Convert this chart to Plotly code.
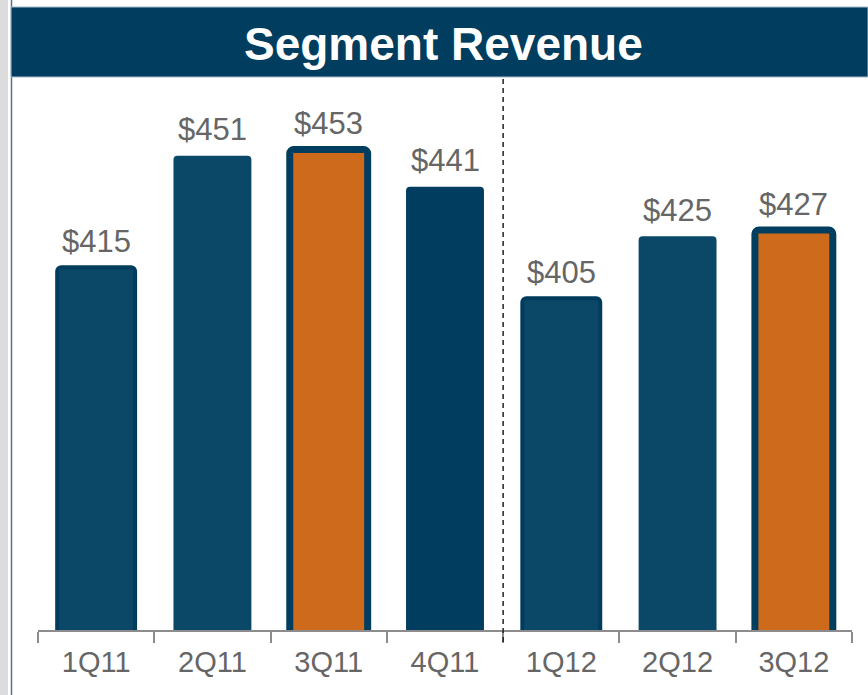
import plotly.graph_objects as go

# ---- data ----
categories = ["1Q11", "2Q11", "3Q11", "4Q11", "1Q12", "2Q12", "3Q12"]
revenue = [415, 451, 453, 441, 405, 425, 427]
value_labels = ["$" + str(v) for v in revenue]
title_text = "Segment Revenue"

# ---- styles ----
fill_colors = ["#0b4767", "#0b4868", "#cd6a1b", "#003d5e", "#0b4767", "#0b4868", "#cd6a1b"]
border_colors = ["#013c5d", "#0b4868", "#003d5e", "#003d5e", "#013c5d", "#0b4868", "#003d5e"]
border_widths = [4, 0, 7, 0, 4, 0, 7]

W, H = 868, 695
FONT = "Liberation Sans, Arial, sans-serif"

def px_x(p):
    return p / W

def px_y(p):
    return 1 - p / H

fig = go.Figure()
fig.add_trace(go.Bar(
    x=categories,
    y=revenue,
    width=0.67,
    marker=dict(color=fill_colors,
                line=dict(color=border_colors, width=border_widths)),
    hoverinfo="skip",
))

for c, v, t in zip(categories, revenue, value_labels):
    fig.add_annotation(x=c, y=v, text=t, showarrow=False, xref="x", yref="y",
                       yanchor="middle", yshift=26,
                       font=dict(family=FONT, size=31, color="#666666"))

shapes = [
    # left gray strip
    dict(type="rect", xref="paper", yref="paper", x0=0, x1=px_x(8), y0=0, y1=1,
         fillcolor="#dcdcdc", line=dict(width=0), layer="above"),
    # thin vertical frame line
    dict(type="line", xref="paper", yref="paper", x0=px_x(11.5), x1=px_x(11.5), y0=0, y1=1,
         line=dict(color="#4f7592", width=1.5)),
    # title banner
    dict(type="rect", xref="paper", yref="paper", x0=px_x(11), x1=1, y0=px_y(77), y1=px_y(7),
         fillcolor="#003d5e", line=dict(color="#a9bccb", width=1)),
    # dashed divider
    dict(type="line", xref="x", yref="paper", x0=3.5, x1=3.5, y0=px_y(642), y1=px_y(78),
         line=dict(color="#222222", width=1.5, dash="5px,4px")),
]

fig.add_annotation(x=px_x(443), y=px_y(44), xref="paper", yref="paper", text="<b>" + title_text + "</b>",
                   showarrow=False, xanchor="center", yanchor="middle",
                   font=dict(family=FONT, size=46, color="white"))

fig.update_layout(
    width=W, height=H,
    margin=dict(l=0, r=0, t=0, b=0),
    paper_bgcolor="white", plot_bgcolor="white",
    showlegend=False,
    barcornerradius=4,
    shapes=shapes,
    xaxis=dict(domain=[px_x(38), px_x(852)], range=[-0.5, 6.5], type="category",
               tickson="boundaries", ticks="outside", ticklen=11, tickwidth=2, tickcolor="#8c8c8c",
               showline=True, linecolor="#8c8c8c", linewidth=2, showgrid=False, zeroline=False,
               ticklabelstandoff=5,
               tickfont=dict(family=FONT, size=29, color="#666666")),
    yaxis=dict(domain=[px_y(630), px_y(80)], range=[298, 475.4], visible=False,
               showgrid=False, zeroline=False),
)

fig.write_html("out.html", config={"displayModeBar": False},
               post_script="document.body.style.margin='0';")
